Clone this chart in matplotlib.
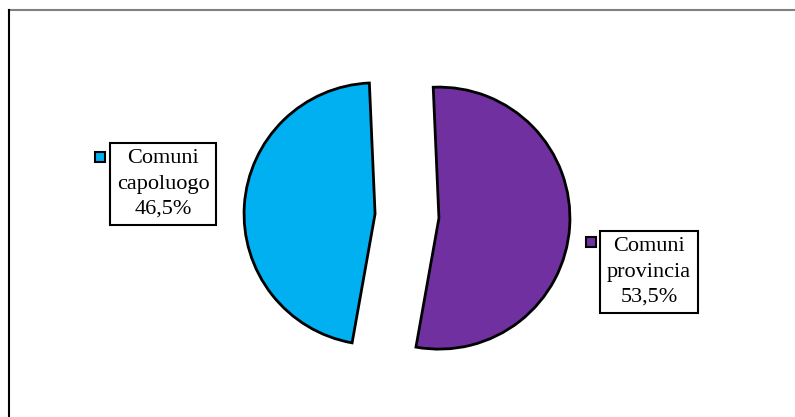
import matplotlib.pyplot as plt
from matplotlib.lines import Line2D

# Dati del grafico a torta
categorie = ['Comuni provincia', 'Comuni capoluogo']
valori = [53.5, 46.5]
etichette = ['Comuni\nprovincia\n53,5%', 'Comuni\ncapoluogo\n46,5%']
colori = ['#7030A0', '#00B0F0']

W, H = 795, 417
fig = plt.figure(figsize=(W / 100, H / 100), dpi=100)
ax = fig.add_axes([0, 0, 1, 1])

# torta esplosa, in coordinate pixel (explode in pixel)
ax.pie(valori, colors=colori, startangle=92.5, counterclock=False,
       explode=[32, 32], radius=131, center=(407, H - 216),
       wedgeprops=dict(edgecolor='black', linewidth=2))
ax.set_xlim(0, W)
ax.set_ylim(0, H)
ax.set_aspect('equal')
ax.axis('off')

# etichette con quadratino colorato
pos_testo = [(649, H - 272), (163, H - 184)]
pos_quadr = [(591, H - 242), (100, H - 157)]
for testo, col, (tx, ty), (qx, qy) in zip(etichette, colori, pos_testo, pos_quadr):
    ax.text(tx, ty, testo, ha='center', va='center', fontsize=16,
            family='Liberation Serif', linespacing=1.45,
            bbox=dict(boxstyle='square,pad=0.3', facecolor='white',
                      edgecolor='black', linewidth=1.5))
    ax.plot(qx, qy, marker='s', markersize=7, markerfacecolor=col,
            markeredgecolor='black', markeredgewidth=1.5)

# bordo del grafico
fig.add_artist(Line2D([9 / W, 1], [1 - 10 / H, 1 - 10 / H], color='#808080', lw=1.5))
fig.add_artist(Line2D([9 / W, 9 / W], [0, 1 - 10 / H], color='black', lw=1.5))

fig.savefig('out.png', dpi=100)
